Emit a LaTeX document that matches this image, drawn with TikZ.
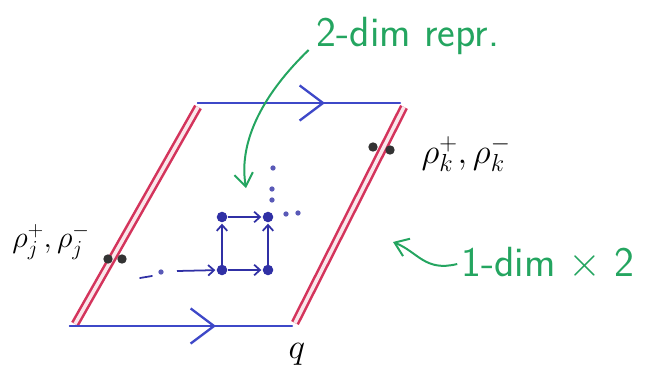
\RequirePackage{fix-cm}
\documentclass[tikz,border=0pt]{standalone}
\usetikzlibrary{arrows.meta, positioning}

\definecolor{penblue}{RGB}{62,72,200}
\definecolor{dotblue}{RGB}{48,48,165}
\definecolor{penred}{RGB}{212,52,92}
\definecolor{pengreen}{RGB}{36,165,96}

\begin{document}
\begin{tikzpicture}[
    x=0.03cm, y=-0.03cm,
    font=\fontsize{30}{34}\selectfont,
    edge/.style={draw=penblue, line width=2pt, line cap=round},
    flow/.style={edge, -{Straight Barb[length=20pt, width=30pt, line width=2pt]}},
    side/.style={draw=penred, line width=2.2pt, double=penred!12, double distance=3pt},
    pdot/.style={circle, fill=black!80, inner sep=0pt, minimum size=8pt},
    gdot/.style={circle, fill=dotblue, inner sep=0pt, minimum size=9pt},
    tdot/.style={circle, fill=dotblue!80, inner sep=0pt, minimum size=4.5pt},
    gstep/.style={draw=dotblue, line width=1.5pt, -{Straight Barb[length=5pt, width=9pt]}, shorten >=1pt},
    note/.style={draw=pengreen, line width=1.7pt, -{Straight Barb[length=11pt, width=16pt]}},
    lbl/.style={text=pengreen, font=\fontsize{36}{40}\sffamily}
]
\useasboundingbox (0,0) rectangle (648,386);

% corners of the strip
\coordinate (tl) at (198,103);
\coordinate (tr) at (400,103);
\coordinate (bl) at (70,326);
\coordinate (br) at (292,326);
\coordinate (tmid) at (325,103);
\coordinate (bmid) at (216,326);

% red sides
\coordinate (l0) at (75,324);
\coordinate (l1) at (198,107);
\coordinate (r0) at (295,323);
\coordinate (r1) at (404,107);
\draw[side] (l0) -- (l1);
\draw[side] (r0) -- (r1);

% blue edges
\draw[edge] (tl) -- (tr);
\draw[flow] (tl) -- (tmid);
\draw[edge] (bl) -- (br);
\draw[flow] (bl) -- (bmid);

% end points on the sides
\node[pdot] (pj1) at (108,259) {};
\node[pdot] (pj2) at (122,259) {};
\node[pdot] (pk1) at (373,147) {};
\node[pdot] (pk2) at (390,150) {};

\node[font=\fontsize{26}{30}\selectfont] (rhoj) at (51,242) {$\rho_j^+,\rho_j^-$};
\node (rhok) at (466,154) {$\rho_k^+,\rho_k^-$};
\node (q) at (297,354) {$q$};

% small lattice
\node[gdot] (g11) at (222,270) {};
\node[gdot] (g21) at (268,270) {};
\node[gdot] (g12) at (222,217) {};
\node[gdot] (g22) at (268,217) {};
\draw[gstep] (g11) -- (g21);
\draw[gstep] (g12) -- (g22);
\draw[gstep] (g11) -- (g12);
\draw[gstep] (g21) -- (g22);

\node[tdot] (h1) at (286,214) {};
\node[tdot] (h2) at (298,213) {};
\node[tdot] (v1) at (272,200) {};
\node[tdot] (v2) at (272,189) {};
\node[tdot] (v3) at (273,168) {};
\node[tdot] (w1) at (161,272) {};
\coordinate (w0) at (140,278);
\coordinate (w2) at (152,276);
\coordinate (lead) at (177,271);
\draw[edge, draw=dotblue, line width=1.5pt] (w0) -- (w2);
\draw[gstep] (lead) -- (g11);

% notes
\node[lbl] (twodim) at (408,36) {2-dim repr.};
\node[lbl] (onedim) at (548,264) {1-dim $\times$ 2};
\coordinate (gtip) at (246,188);
\coordinate (dimtip) at (393,242);
\draw[note] (twodim.west) ++(-4,14) .. controls (265,92) and (238,140) .. (gtip);
\draw[note] (onedim.west) .. controls (425,272) and (418,252) .. (dimtip);

\end{tikzpicture}
\end{document}
